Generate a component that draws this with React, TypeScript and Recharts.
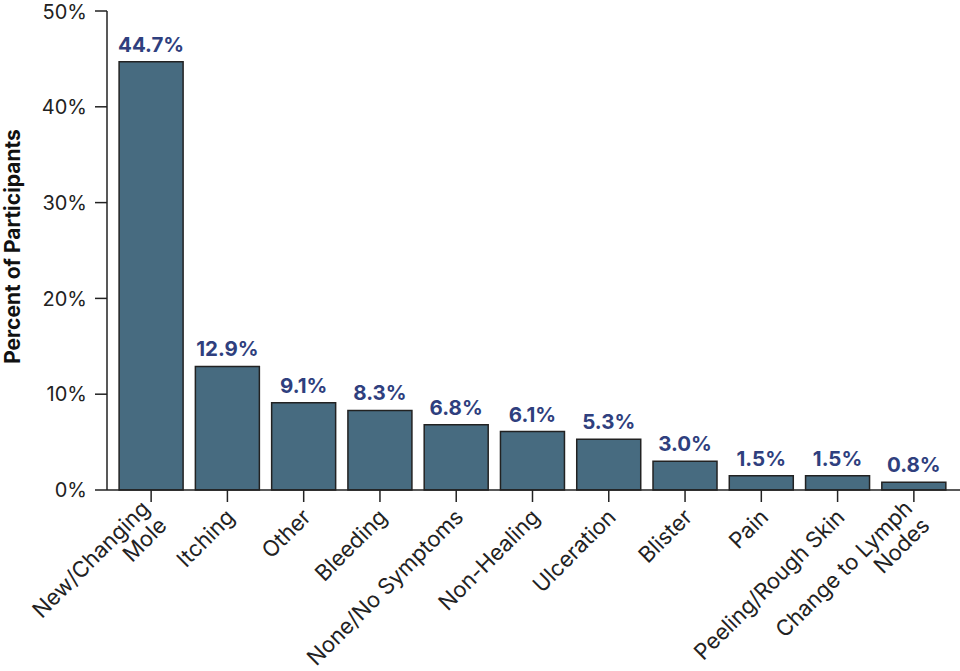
import React from 'react';
import { BarChart, Bar, XAxis, YAxis, LabelList } from 'recharts';

const categories = [
  'New/Changing Mole',
  'Itching',
  'Other',
  'Bleeding',
  'None/No Symptoms',
  'Non-Healing',
  'Ulceration',
  'Blister',
  'Pain',
  'Peeling/Rough Skin',
  'Change to Lymph Nodes',
];
const values = [44.7, 12.9, 9.1, 8.3, 6.8, 6.1, 5.3, 3.0, 1.5, 1.5, 0.8];
const yTicks = [0, 10, 20, 30, 40, 50];

// long names wrap onto two lines like the original
const tickLines: Record<string, string[]> = {
  'New/Changing Mole': ['New/Changing', 'Mole'],
  'Change to Lymph Nodes': ['Change to Lymph', 'Nodes'],
};

const data = categories.map((name, i) => ({ name, value: values[i] }));

const FONT = 'Inter, "Open Sans", sans-serif';

const XTick = (props: any) => {
  const { x, y, payload } = props;
  const lines = tickLines[payload.value] || [payload.value];
  const start = lines.length > 1 ? -0.55 : 0;
  return (
    <g transform={`translate(${x + 3},${y + 9})`}>
      <text
        textAnchor="end"
        transform="rotate(-45)"
        fontSize={22}
        fontFamily={FONT}
        fill="#222"
      >
        {lines.map((l: string, i: number) => (
          <tspan key={i} x={0} dy={i === 0 ? `${start + 0.35}em` : '1.1em'}>
            {l}
          </tspan>
        ))}
      </text>
    </g>
  );
};

const App: React.FC = () => {
  return (
    <div style={{ position: 'absolute', left: 0, top: 0, background: '#fff' }}>
      <BarChart
        width={960}
        height={671}
        data={data}
        margin={{ top: 11, right: 0, bottom: 0, left: 0 }}
        barCategoryGap="8%"
      >
        <XAxis
          dataKey="name"
          interval={0}
          height={181}
          padding={{ left: 6, right: 8 }}
          axisLine={{ stroke: '#222', strokeWidth: 1.5 }}
          tickLine={{ stroke: '#222', strokeWidth: 1.5 }}
          tickSize={12}
          tick={<XTick />}
        />
        <YAxis
          width={107}
          domain={[0, 50]}
          ticks={yTicks}
          tickFormatter={(v: number) => `${v}%`}
          axisLine={{ stroke: '#222', strokeWidth: 1.5 }}
          tickLine={{ stroke: '#222', strokeWidth: 1.5 }}
          tickSize={12}
          tickMargin={8}
          tick={{ fontSize: 20, fontFamily: FONT, fill: '#222' }}
          label={{
            value: 'Percent of Participants',
            angle: -90,
            position: 'insideLeft',
            offset: 13,
            dy: -4,
            style: { fontSize: 21, fontWeight: 700, fontFamily: FONT, fill: '#111', textAnchor: 'middle' },
          }}
        />
        <Bar dataKey="value" fill="#476b80" stroke="#222" strokeWidth={1.5} isAnimationActive={false}>
          <LabelList
            dataKey="value"
            position="top"
            offset={10}
            formatter={(v: number) => `${v.toFixed(1)}%`}
            style={{ fontSize: 20.5, fontWeight: 700, fontFamily: FONT, fill: '#2f3f7e' }}
          />
        </Bar>
      </BarChart>
    </div>
  );
};

export default App;
